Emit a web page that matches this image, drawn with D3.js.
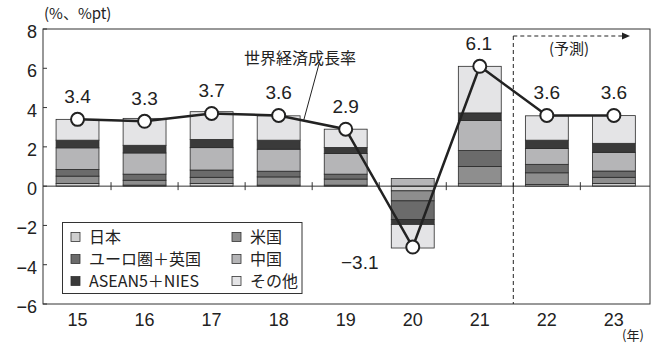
<!DOCTYPE html>
<html><head><meta charset="utf-8">
<script src="https://cdn.jsdelivr.net/npm/d3@7"></script>
<style>body{margin:0;background:#fff}svg{display:block}</style>
</head><body>
<svg id="c" width="656" height="345"></svg>
<script>
const years = ["15","16","17","18","19","20","21","22","23"];
const japan = [0.14, 0.05, 0.14, 0.05, 0.05, -0.24, 0.12, 0.09, 0.14];
const us    = [0.37, 0.25, 0.31, 0.42, 0.31, -0.51, 0.88, 0.59, 0.31];
const euro  = [0.34, 0.31, 0.37, 0.29, 0.25, -0.95, 0.81, 0.43, 0.32];
const china = [1.10, 1.08, 1.14, 1.12, 1.05, 0.39, 1.53, 0.81, 0.95];
const asean = [0.39, 0.39, 0.42, 0.46, 0.31, -0.25, 0.39, 0.42, 0.46];
const other = [1.06, 1.37, 1.41, 1.24, 0.93, -1.20, 2.37, 1.24, 1.41];
const world = [3.4, 3.3, 3.7, 3.6, 2.9, -3.1, 6.1, 3.6, 3.6];
const worldLabels = ["3.4","3.3","3.7","3.6","2.9","\u22123.1","6.1","3.6","3.6"];
const yTicks = [-6,-4,-2,0,2,4,6,8];
const yTickLabels = ["\u22126","\u22124","\u22122","0","2","4","6","8"];
const seriesNames = ["日本","米国","ユーロ圏＋英国","中国","ASEAN5＋NIES","その他"];
const seriesData = [japan, us, euro, china, asean, other];
const colors = ["#cfcfcf","#8e8e8e","#6b6b6b","#b5b5b7","#3a3a3a","#e4e4e6"];

const svg = d3.select("#c");
const L = 43, R = 650, T = 29, B = 304;
const x = d3.scaleBand().domain(years).range([44, 647.4]).paddingInner(0.36).paddingOuter(0.18);
const y = d3.scaleLinear().domain([-6, 8]).range([B, T]);
const num = "'Liberation Sans', Arial, sans-serif";
const jp = "'Noto Sans CJK JP', sans-serif";

const table = years.map((yr, i) => {
  const o = {year: yr};
  seriesNames.forEach((n, k) => o[n] = seriesData[k][i]);
  return o;
});
const stack = d3.stack().keys(seriesNames).offset(d3.stackOffsetDiverging)(table);

// frame
svg.append("rect").attr("x", L).attr("y", T).attr("width", R - L).attr("height", B - T)
  .attr("fill", "none").attr("stroke", "#333").attr("stroke-width", 1);

// bars
const g = svg.append("g");
stack.forEach((s, k) => {
  g.selectAll(null).data(s).enter().append("rect")
    .attr("x", d => x(d.data.year))
    .attr("width", x.bandwidth())
    .attr("y", d => y(Math.max(d[0], d[1])))
    .attr("height", d => Math.abs(y(d[0]) - y(d[1])))
    .attr("fill", colors[k]).attr("stroke", "#2a2a2a").attr("stroke-width", 0.8);
});

// zero line
svg.append("line").attr("x1", L).attr("x2", R).attr("y1", y(0)).attr("y2", y(0))
  .attr("stroke", "#333").attr("stroke-width", 1);

// x ticks at band boundaries crossing zero line
const step = x.step();
const bounds = years.slice(1).map(yr => x(yr) - (step - x.bandwidth()) / 2);
svg.selectAll(null).data(bounds).enter().append("line")
  .attr("x1", d => d).attr("x2", d => d).attr("y1", y(0) - 4).attr("y2", y(0) + 4)
  .attr("stroke", "#333").attr("stroke-width", 1);

// y ticks inward
svg.selectAll(null).data(yTicks).enter().append("line")
  .attr("x1", L).attr("x2", L + 4).attr("y1", d => y(d)).attr("y2", d => y(d))
  .attr("stroke", "#333");
svg.selectAll(null).data(yTicks).enter().append("text")
  .attr("x", 37).attr("y", d => y(d) + 9)
  .attr("text-anchor", "end").attr("font-family", num).attr("font-size", 18).attr("fill", "#222")
  .text((d, i) => yTickLabels[i]);

// x labels
svg.selectAll(null).data(years).enter().append("text")
  .attr("x", d => x(d) + x.bandwidth() / 2).attr("y", 325.5)
  .attr("text-anchor", "middle").attr("font-family", num).attr("font-size", 18).attr("fill", "#222")
  .text(d => d);

// forecast dashed line & arrow
const fx = x("22") - (step - x.bandwidth()) / 2;
svg.append("line").attr("x1", fx).attr("x2", fx).attr("y1", 36).attr("y2", B)
  .attr("stroke", "#222").attr("stroke-width", 1).attr("stroke-dasharray", "4,3");
svg.append("line").attr("x1", fx).attr("x2", 624).attr("y1", 36).attr("y2", 36)
  .attr("stroke", "#222").attr("stroke-width", 1).attr("stroke-dasharray", "4,3");
svg.append("path").attr("d", "M622,32.5 L630,36 L622,39.5 Z").attr("fill", "#222");
svg.append("text").attr("x", 569).attr("y", 54).attr("text-anchor", "middle")
  .attr("font-family", jp).attr("font-size", 15).attr("fill", "#222").text("(予測)");

// world growth line
const cx = d => x(d) + x.bandwidth() / 2;
const line = d3.line().x((d, i) => cx(years[i])).y(d => y(d));
svg.append("path").attr("d", line(world)).attr("fill", "none")
  .attr("stroke", "#222").attr("stroke-width", 2.5);
svg.selectAll(null).data(world).enter().append("circle")
  .attr("cx", (d, i) => cx(years[i])).attr("cy", d => y(d)).attr("r", 6.5)
  .attr("fill", "#fff").attr("stroke", "#222").attr("stroke-width", 2);

// value labels
svg.selectAll(null).data(world).enter().append("text")
  .attr("x", (d, i) => d < 0 ? cx(years[i]) - 53 : cx(years[i]) + (i === 6 ? -1 : 0))
  .attr("y", d => d < 0 ? y(d) + 22 : y(d) - 16)
  .attr("text-anchor", "middle").attr("font-family", num).attr("font-size", 19).attr("fill", "#222")
  .text((d, i) => worldLabels[i]);

// world growth annotation
svg.append("text").attr("x", 300).attr("y", 64).attr("text-anchor", "middle")
  .attr("font-family", jp).attr("font-size", 16).attr("fill", "#222").text("世界経済成長率");
svg.append("line").attr("x1", 319).attr("y1", 64).attr("x2", 303.5).attr("y2", 121)
  .attr("stroke", "#222").attr("stroke-width", 1);

// unit labels
svg.append("text").attr("x", 44).attr("y", 19).attr("font-family", jp).attr("font-size", 15)
  .attr("fill", "#222").text("(%、%pt)");
svg.append("text").attr("x", 633).attr("y", 340).attr("text-anchor", "middle").attr("font-family", jp)
  .attr("font-size", 13).attr("fill", "#222").text("(年)");

// legend
const lg = svg.append("g");
lg.append("rect").attr("x", 62.5).attr("y", 222.5).attr("width", 239.5).attr("height", 71)
  .attr("fill", "#fff").attr("stroke", "#333").attr("stroke-width", 1);
const legendPos = [[0,0],[1,0],[0,1],[1,1],[0,2],[1,2]];
seriesNames.forEach((name, k) => {
  const [c, r] = legendPos[k];
  const lx = c === 0 ? 71 : 232;
  const ly = 237 + r * 22;
  lg.append("rect").attr("x", lx).attr("y", ly - 4.5).attr("width", 9).attr("height", 9)
    .attr("fill", colors[k]).attr("stroke", "#333").attr("stroke-width", 0.8);
  lg.append("text").attr("x", lx + 18).attr("y", ly + 6).attr("font-family", jp)
    .attr("font-size", 16).attr("fill", "#222").text(name);
});
</script>
</body></html>
